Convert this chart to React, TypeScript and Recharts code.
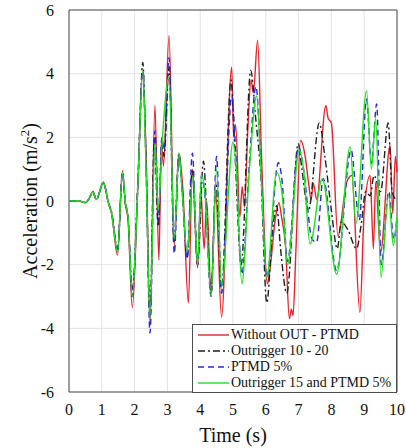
import { CartesianGrid, Legend, Line, LineChart, ReferenceArea, XAxis, YAxis } from 'recharts';

// Acceleration time history — four cases, MATLAB-ish look
const FONT = '"Liberation Serif", "Times New Roman", serif';
const GRID_COLOR = '#e3e3e3';
const FRAME_COLOR = '#4d4d4d';
const TEXT_COLOR = '#111';

const X_TICKS = [0, 1, 2, 3, 4, 5, 6, 7, 8, 9, 10];
const Y_TICKS = [-6, -4, -2, 0, 2, 4, 6];

const LABELS = ['Without OUT - PTMD', 'Outrigger 10 - 20', 'PTMD 5%', 'Outrigger 15 and PTMD 5%'];

const tRed = [0, 0.3, 0.5, 0.6, 0.73, 0.83, 1.05, 1.2, 1.3, 1.48, 1.63, 1.72, 1.8, 1.93, 2.1, 2.24, 2.35, 2.47, 2.62, 2.74, 2.82, 2.88, 3.05, 3.21, 3.35, 3.47, 3.64, 3.76, 3.92, 4.02, 4.12, 4.2, 4.33, 4.47, 4.65, 4.96, 5.02, 5.08, 5.21, 5.28, 5.35, 5.45, 5.55, 5.62, 5.75, 5.87, 6.05, 6.12, 6.3, 6.4, 6.48, 6.6, 6.72, 6.78, 6.83, 6.92, 7.06, 7.2, 7.3, 7.38, 7.45, 7.55, 7.83, 7.9, 8.0, 8.2, 8.47, 8.62, 8.87, 9.0, 9.18, 9.28, 9.35, 9.5, 9.79, 9.87, 9.95, 10];
const aRed = [0, 0, -0.05, 0.05, 0.3, 0.05, 0.6, -0.05, -0.4, -1.7, 0.95, -0.1, -0.6, -3.35, 0.5, 4.0, 1.5, -3.9, 3.0, -1.85, 1.9, 1.1, 5.2, -1.4, 1.5, 0.4, -3.2, 1.0, -2.1, 0.3, -1.5, 0.0, -2.9, 0.3, -3.65, 4.2, 2.0, 2.4, -0.5, 0.45, -0.2, 2.2, 3.8, 3.4, 5.05, 1.4, -2.6, -2.2, -0.5, -0.05, -0.5, -1.4, -3.7, -3.4, -3.6, -1.5, 1.9, 1.4, 0.6, 0.05, 0.55, 0.05, 3.0, 2.6, 2.45, -1.1, 0.6, 0.8, -3.5, -0.3, 0.8, -1.5, 0.6, -1.6, 1.75, -0.4, 1.4, 0.9];

const tBlack = [0, 0.3, 0.5, 0.6, 0.73, 0.83, 1.05, 1.2, 1.3, 1.48, 1.63, 1.72, 1.8, 1.93, 2.1, 2.25, 2.35, 2.47, 2.6, 2.72, 2.83, 2.9, 3.05, 3.2, 3.35, 3.45, 3.6, 3.76, 3.92, 4.1, 4.2, 4.33, 4.48, 4.65, 4.94, 5.06, 5.25, 5.54, 5.7, 5.85, 6.03, 6.2, 6.33, 6.45, 6.64, 6.99, 7.1, 7.3, 7.63, 7.8, 8.0, 8.18, 8.3, 8.5, 8.77, 8.9, 9.05, 9.18, 9.3, 9.5, 9.73, 9.85, 10];
const aBlack = [0, 0, -0.05, 0.05, 0.28, 0.05, 0.55, -0.05, -0.35, -1.5, 0.85, -0.1, -0.5, -2.8, 0.6, 4.35, 1.2, -3.6, 2.0, -0.8, 1.8, 1.4, 4.2, -1.3, 1.5, 0.3, -1.8, 1.0, -2.0, 1.25, -0.4, -2.9, 0.6, -2.8, 3.8, 1.5, -2.0, 4.1, 2.5, 0.8, -3.2, -1.0, -0.15, -1.5, -2.9, 1.8, 1.0, -0.3, 2.45, 1.4, -0.3, -1.5, -0.65, -0.9, -1.5, -0.8, 0.3, 0.16, 0.8, 0.3, 2.45, 0.3, 0.0];

const tBlue = [0, 0.3, 0.5, 0.6, 0.73, 0.83, 1.05, 1.2, 1.3, 1.48, 1.63, 1.72, 1.8, 1.93, 2.1, 2.25, 2.35, 2.47, 2.62, 2.74, 2.83, 2.9, 3.05, 3.21, 3.35, 3.45, 3.6, 3.76, 3.92, 4.04, 4.15, 4.33, 4.5, 4.65, 4.96, 5.08, 5.27, 5.5, 5.7, 5.85, 6.03, 6.38, 6.5, 6.66, 7.0, 7.15, 7.41, 7.55, 7.75, 8.16, 8.6, 8.85, 9.07, 9.22, 9.38, 9.52, 9.75, 9.9, 10];
const aBlue = [0, 0, -0.05, 0.05, 0.28, 0.05, 0.58, -0.05, -0.4, -1.6, 0.9, -0.05, -0.5, -3.0, 0.5, 4.1, 1.1, -4.15, 2.2, -0.6, 2.0, 1.6, 4.5, -1.65, 1.4, 0.4, -1.8, 1.5, -2.0, 0.8, 0.1, -3.0, 1.4, -2.9, 3.3, 1.6, -2.3, 1.2, 3.6, 1.2, -2.4, 1.2, 0.6, -1.9, 1.7, 1.0, -1.2, -1.3, 0.7, -2.2, 1.6, -0.6, 3.2, 1.2, 3.05, -2.0, 0.3, -1.2, -0.5];

const tGreen = [0, 0.3, 0.5, 0.6, 0.73, 0.83, 1.05, 1.2, 1.3, 1.48, 1.63, 1.72, 1.8, 1.93, 2.1, 2.25, 2.35, 2.47, 2.62, 2.72, 2.85, 3.05, 3.21, 3.35, 3.45, 3.6, 3.78, 3.92, 4.04, 4.15, 4.33, 4.5, 4.65, 5.0, 5.1, 5.27, 5.5, 5.72, 5.85, 6.03, 6.33, 6.5, 6.66, 7.02, 7.15, 7.35, 7.72, 8.16, 8.57, 8.75, 9.07, 9.22, 9.35, 9.51, 9.74, 9.89, 10];
const aGreen = [0, 0, -0.05, 0.05, 0.28, 0.05, 0.58, -0.05, -0.4, -1.6, 0.9, -0.05, -0.5, -3.0, 0.5, 4.1, 1.0, -3.7, 1.8, -0.3, 2.0, 3.9, -1.2, 1.5, 0.3, -1.6, 0.8, -2.0, 0.8, 0.2, -3.0, 1.0, -2.7, 1.85, 1.0, -2.6, 1.0, 3.3, 1.0, -2.4, 0.9, 0.2, -2.0, 1.6, 1.0, -1.35, 0.7, -2.3, 1.7, -0.7, 3.45, 1.0, 2.6, -2.4, 0.2, -1.4, -0.5];

const zip = (t: number[], a: number[]) => t.map((x, i) => ({ t: x, a: a[i] }));

const SERIES = [
  { name: LABELS[0], data: zip(tRed, aRed), color: '#e3262b', dash: undefined as string | undefined },
  { name: LABELS[1], data: zip(tBlack, aBlack), color: '#1f1f1f', dash: '7 3 2 3' },
  { name: LABELS[2], data: zip(tBlue, aBlue), color: '#2828d8', dash: '6 4' },
  { name: LABELS[3], data: zip(tGreen, aGreen), color: '#1fe01f', dash: undefined },
];

function LegendBox() {
  return (
    <div
      style={{
        boxSizing: 'border-box',
        width: 205,
        height: 69,
        border: `1px solid ${FRAME_COLOR}`,
        background: '#fff',
        padding: '2px 0 0 5px',
        fontFamily: FONT,
        fontSize: 14,
        lineHeight: '16px',
        color: TEXT_COLOR,
      }}
    >
      {SERIES.map((s) => (
        <div key={s.name} style={{ display: 'flex', alignItems: 'center', height: 16 }}>
          <svg width={31} height={10} style={{ marginRight: 2 }}>
            <line x1={0} y1={5} x2={31} y2={5} stroke={s.color} strokeWidth={1.4} strokeDasharray={s.dash} />
          </svg>
          <span style={{ whiteSpace: 'nowrap' }}>{s.name}</span>
        </div>
      ))}
    </div>
  );
}

// fixed-position axis titles, serif like the MATLAB export
function YTitle() {
  return (
    <text transform="rotate(-90)" x={-201} y={37} textAnchor="middle" fill={TEXT_COLOR} fontSize={20} fontFamily={FONT}>
      Acceleration (m/s
      <tspan dy={-8} fontSize={13}>2</tspan>
      <tspan dy={8}>)</tspan>
    </text>
  );
}

function XTitle() {
  return (
    <text x={233} y={442} textAnchor="middle" fill={TEXT_COLOR} fontSize={20} fontFamily={FONT}>
      Time (s)
    </text>
  );
}

export default function App() {
  return (
    <div style={{ position: 'absolute', left: 0, top: 0, width: 406, height: 448, background: '#fff', fontFamily: FONT }}>
      <LineChart width={406} height={448} margin={{ top: 10, right: 9, bottom: 0, left: 0 }} style={{ fontFamily: FONT }}>
        <CartesianGrid stroke={GRID_COLOR} />
        <XAxis
          dataKey="t"
          type="number"
          domain={[0, 10]}
          ticks={X_TICKS}
          allowDuplicatedCategory={false}
          axisLine={false}
          tickLine={false}
          tickMargin={6}
          height={56}
          tick={{ fill: TEXT_COLOR, fontSize: 16, fontFamily: FONT }}
          label={<XTitle />}
        />
        <YAxis
          type="number"
          domain={[-6, 6]}
          ticks={Y_TICKS}
          axisLine={false}
          tickLine={false}
          tickMargin={9}
          width={69}
          tick={{ fill: TEXT_COLOR, fontSize: 16, fontFamily: FONT }}
          label={<YTitle />}
        />
        <ReferenceArea x1={0} x2={10} y1={-6} y2={6} fill="none" stroke={FRAME_COLOR} strokeWidth={1} />
        {SERIES.map((s) => (
          <Line
            key={s.name}
            data={s.data}
            dataKey="a"
            name={s.name}
            type="monotone"
            stroke={s.color}
            strokeWidth={1.4}
            strokeDasharray={s.dash}
            dot={false}
            isAnimationActive={false}
          />
        ))}
        <Legend
          layout="vertical"
          align="center"
          verticalAlign="middle"
          content={() => <LegendBox />}
          wrapperStyle={{ left: 192, top: 324, width: 205, height: 69 }}
        />
      </LineChart>
    </div>
  );
}
